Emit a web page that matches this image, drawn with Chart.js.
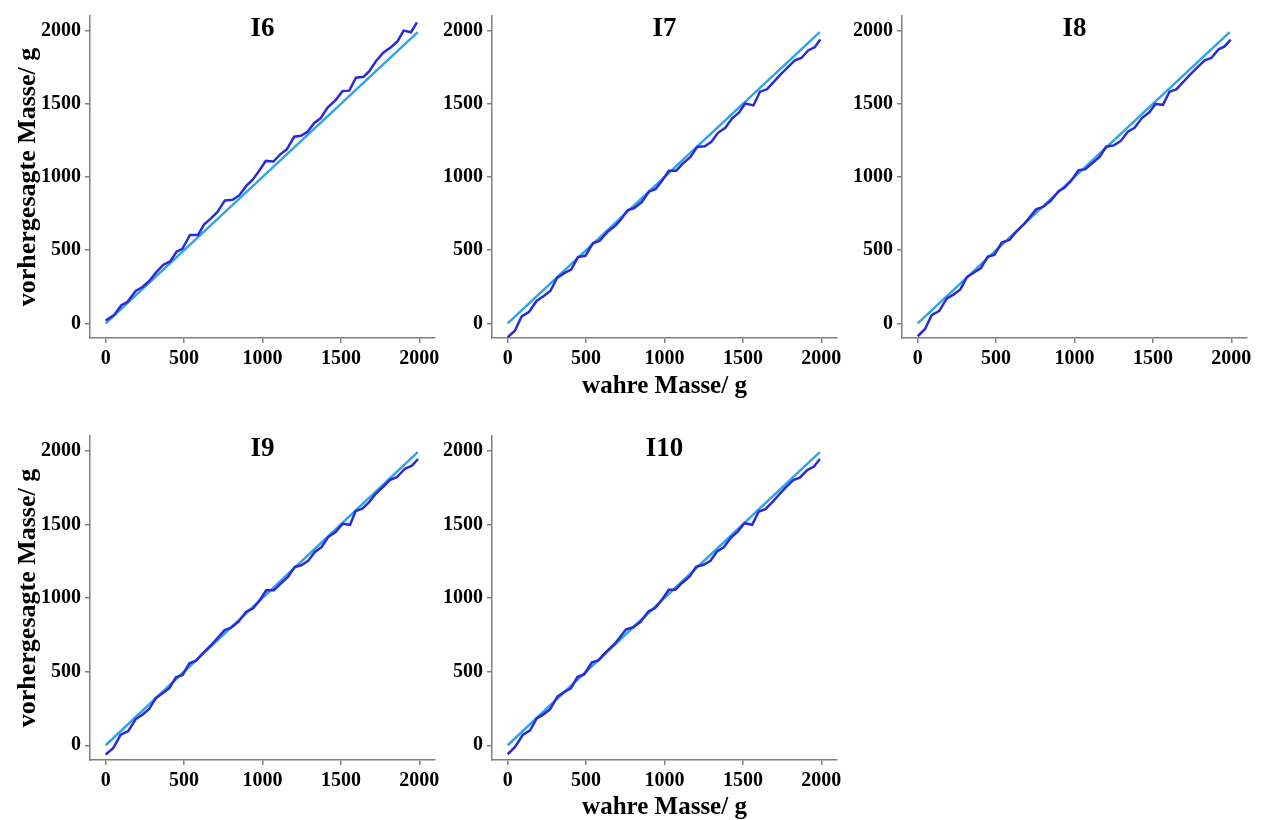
<!DOCTYPE html>
<html>
<head>
<meta charset="utf-8">
<script src="https://cdn.jsdelivr.net/npm/chart.js@4.4.1/dist/chart.umd.min.js"></script>
<style>
html,body{margin:0;padding:0;background:#fff;width:1267px;height:820px;overflow:hidden;}
canvas{position:absolute;}
</style>
</head>
<body>
<canvas id="c6" width="445" height="408" style="left:0px;top:0px"></canvas>
<canvas id="c7" width="445" height="408" style="left:402px;top:0px"></canvas>
<canvas id="c8" width="445" height="408" style="left:812px;top:0px"></canvas>
<canvas id="c9" width="445" height="406" style="left:0px;top:420px"></canvas>
<canvas id="c10" width="445" height="406" style="left:402px;top:420px"></canvas>
<script>
// ---------- data ----------
const panelTitles = ['I6', 'I7', 'I8', 'I9', 'I10'];
const yAxisLabel = 'vorhergesagte Masse/ g';
const xAxisLabel = 'wahre Masse/ g';
const xTicks = [0, 500, 1000, 1500, 2000];
const yTicks = [0, 500, 1000, 1500, 2000];
const refTrue = [0, 1990];
const refPred = [0, 1990];

const i6True = [0,53,100,138,191,234,277,319,368,411,453,489,538,589,628,670,713,760,809,851,898,936,979,1021,1070,1113,1155,1202,1245,1287,1330,1372,1415,1468,1511,1553,1596,1645,1681,1723,1770,1819,1862,1900,1947,1985];
const i6Pred = [20,56,124,146,221,248,288,345,401,423,491,509,604,604,676,716,761,840,845,874,941,980,1043,1110,1106,1155,1189,1275,1282,1309,1369,1403,1475,1527,1588,1590,1678,1685,1723,1791,1849,1887,1928,2000,1989,2056];

const i7True = [0,46,89,137,184,230,272,315,363,405,448,496,543,585,638,691,729,764,807,855,902,944,982,1028,1075,1113,1166,1208,1257,1299,1341,1388,1430,1476,1514,1567,1609,1652,1694,1736,1789,1831,1873,1916,1958,1994];
const i7Pred = [-95,-50,47,79,153,187,221,311,345,367,453,462,547,563,626,671,720,773,788,829,901,919,971,1043,1043,1088,1137,1205,1210,1241,1302,1336,1399,1441,1502,1489,1583,1599,1646,1696,1752,1797,1813,1865,1887,1939];

const i8True = [0,47,89,138,185,230,272,315,362,404,447,489,536,585,628,681,718,755,798,847,898,936,979,1026,1068,1106,1160,1202,1251,1294,1340,1383,1430,1479,1515,1564,1606,1649,1691,1734,1787,1830,1872,1919,1957,1996];
const i8Pred = [-88,-38,56,86,169,198,232,318,349,378,457,468,552,570,626,682,730,779,795,836,903,926,975,1047,1052,1088,1137,1207,1216,1245,1309,1336,1403,1444,1498,1493,1583,1599,1646,1696,1752,1797,1813,1872,1892,1939];

const i9True = [0,49,96,143,192,235,277,320,363,406,448,491,534,576,630,683,720,758,800,847,896,939,982,1024,1073,1116,1163,1206,1248,1291,1334,1377,1419,1466,1511,1558,1594,1637,1680,1722,1771,1814,1857,1906,1953,1992];
const i9Pred = [-63,-18,72,95,178,207,246,320,354,388,462,478,557,575,636,692,737,782,798,839,907,929,985,1053,1053,1098,1143,1211,1222,1252,1313,1346,1414,1448,1504,1497,1590,1606,1651,1708,1757,1802,1820,1876,1899,1944];

const i10True = [0,47,96,143,185,228,270,317,360,403,445,488,537,579,628,682,718,754,799,846,899,941,984,1027,1069,1112,1161,1203,1250,1293,1335,1378,1425,1467,1510,1559,1601,1644,1686,1729,1778,1821,1863,1910,1953,1991];
const i10Pred = [-61,-11,70,102,183,210,244,330,361,386,465,481,564,576,634,688,737,786,801,837,910,932,989,1056,1056,1102,1147,1214,1226,1253,1316,1345,1411,1451,1508,1497,1587,1603,1650,1700,1756,1801,1817,1869,1892,1944];

// ---------- styles ----------
const FAMILY = '"Liberation Serif", "Times New Roman", serif';
const DARK = '#2a2ad8';
const LIGHT = '#2fa4e6';
const AXIS = '#7f7f7f';

const zip = (xs, ys) => xs.map((x, i) => ({x: x, y: ys[i]}));

const panelTitlePlugin = {
  id: 'panelTitle',
  afterDraw(chart, args, opts) {
    const {ctx, chartArea} = chart;
    ctx.save();
    ctx.font = 'bold 27px ' + FAMILY;
    ctx.fillStyle = '#000';
    ctx.textAlign = 'center';
    ctx.textBaseline = 'middle';
    ctx.fillText(opts.text, (chartArea.left + chartArea.right) / 2, chartArea.top + opts.offset);
    ctx.restore();
  }
};

function makePanel(id, title, xs, ys, cfg) {
  const tickFont = {family: FAMILY, weight: 'bold', size: 20};
  new Chart(document.getElementById(id), {
    type: 'line',
    data: {
      datasets: [
        {data: zip(xs, ys), borderColor: DARK, borderWidth: 2.5, pointRadius: 0, tension: 0, fill: false},
        {data: zip(refTrue, refPred), borderColor: LIGHT, borderWidth: 2.5, pointRadius: 0, tension: 0, fill: false}
      ]
    },
    options: {
      responsive: false,
      animation: false,
      devicePixelRatio: 1,
      layout: {padding: {top: cfg.padTop, right: 10, left: 0, bottom: 0}},
      plugins: {
        legend: {display: false},
        tooltip: {enabled: false},
        panelTitle: {text: title, offset: 13}
      },
      scales: {
        x: {
          type: 'linear', min: -100, max: 2100,
          afterBuildTicks: s => { s.ticks = xTicks.map(v => ({value: v})); },
          afterFit: s => { s.height = cfg.xHeight; },
          ticks: {font: tickFont, color: '#000', padding: 4, maxRotation: 0, autoSkip: false,
                  callback: v => String(v)},
          grid: {display: true, drawOnChartArea: false, drawTicks: true, tickLength: 5, color: AXIS, lineWidth: 1.5},
          border: {display: true, color: AXIS, width: 1.5},
          title: {display: cfg.xTitle, text: xAxisLabel, color: '#000',
                  font: {family: FAMILY, weight: 'bold', size: 25},
                  padding: {top: 0, bottom: cfg.xTitlePad}}
        },
        y: {
          type: 'linear', min: -100, max: 2100,
          afterBuildTicks: s => { s.ticks = yTicks.map(v => ({value: v})); },
          afterFit: s => { s.width = 90; },
          ticks: {font: tickFont, color: '#000', padding: 4, autoSkip: false,
                  callback: v => String(v)},
          grid: {display: true, drawOnChartArea: false, drawTicks: true, tickLength: 5, color: AXIS, lineWidth: 1.5},
          border: {display: true, color: AXIS, width: 1.5},
          title: {display: cfg.yTitle, text: yAxisLabel, color: '#000',
                  font: {family: FAMILY, weight: 'bold', size: 26},
                  padding: {top: 13, bottom: 0}}
        }
      }
    },
    plugins: [panelTitlePlugin]
  });
}

makePanel('c6', panelTitles[0], i6True, i6Pred, {padTop: 13, xHeight: 70, xTitle: false, yTitle: true, xTitlePad: 6});
makePanel('c7', panelTitles[1], i7True, i7Pred, {padTop: 13, xHeight: 70, xTitle: true, yTitle: false, xTitlePad: 6});
makePanel('c8', panelTitles[2], i8True, i8Pred, {padTop: 13, xHeight: 70, xTitle: false, yTitle: false, xTitlePad: 6});
makePanel('c9', panelTitles[3], i9True, i9Pred, {padTop: 15, xHeight: 66, xTitle: false, yTitle: true, xTitlePad: 3});
makePanel('c10', panelTitles[4], i10True, i10Pred, {padTop: 15, xHeight: 66, xTitle: true, yTitle: false, xTitlePad: 3});
</script>
</body>
</html>
